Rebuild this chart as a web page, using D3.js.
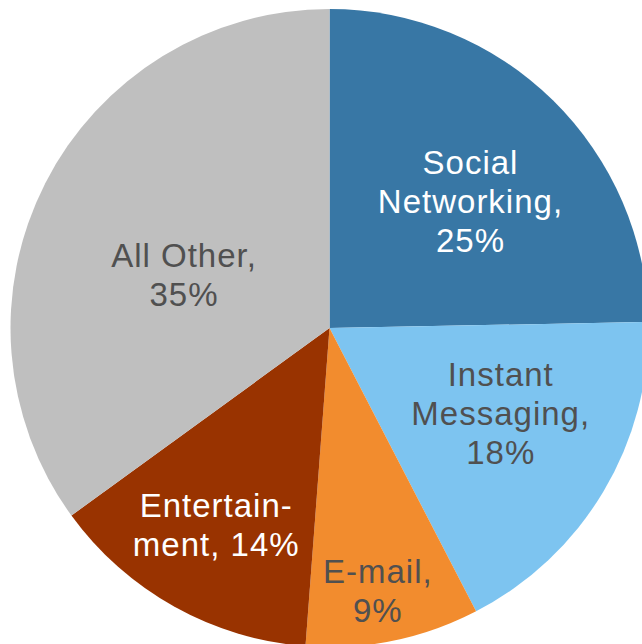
<!DOCTYPE html>
<html>
<head>
<meta charset="utf-8">
<script src="https://cdn.jsdelivr.net/npm/d3@7"></script>
<style>
  html, body { margin: 0; padding: 0; background: #ffffff; }
  svg { display: block; }
</style>
</head>
<body>
<svg id="chart" width="642" height="644"></svg>
<script>
// ---- data ----
const categories = ["Social Networking", "Instant Messaging", "E-mail", "Entertainment", "All Other"];
const shares = [24.7, 17.7, 8.8, 13.8, 35.0];
const labelLines = [
  ["Social", "Networking,", "25%"],
  ["Instant", "Messaging,", "18%"],
  ["E-mail,", "9%"],
  ["Entertain-", "ment, 14%"],
  ["All Other,", "35%"]
];
const colors = ["#3877A5", "#7DC4F0", "#F28C2E", "#993300", "#BFBFBF"];
const textColors = ["#ffffff", "#505050", "#505050", "#ffffff", "#505050"];
// label placement (best-fit style): radius fraction and angular nudge in degrees
const labelRadius = [0.592, 0.599, 0.837, 0.712, 0.487];
const labelNudge = [3.6, -4.1, 1.2, 0.9, -7.0];

// ---- layout ----
const W = 642, H = 644;
const cx = 329.5, cy = 328, R = 319;
const fontSize = 33, lineH = 39, letterSp = 1;

const svg = d3.select("#chart");
const g = svg.append("g").attr("transform", `translate(${cx},${cy})`);

const pie = d3.pie().sort(null).value(d => d).startAngle(0).endAngle(2 * Math.PI);
const arcs = pie(shares);
const arc = d3.arc().innerRadius(0).outerRadius(R);

g.selectAll("path.slice")
  .data(arcs)
  .join("path")
  .attr("class", "slice")
  .attr("d", arc)
  .attr("fill", (d, i) => colors[i]);

g.selectAll("text.lbl")
  .data(arcs)
  .join("text")
  .attr("class", "lbl")
  .attr("font-family", "Liberation Sans, Arial, sans-serif")
  .attr("font-size", fontSize)
  .attr("letter-spacing", letterSp)
  .attr("fill", (d, i) => textColors[i])
  .attr("text-anchor", "middle")
  .each(function(d, i) {
    const mid = (d.startAngle + d.endAngle) / 2 + labelNudge[i] * Math.PI / 180;
    const r = R * labelRadius[i];
    const x = Math.sin(mid) * r + letterSp / 2;
    const y = -Math.cos(mid) * r;
    const lines = labelLines[i];
    const n = lines.length;
    d3.select(this).selectAll("tspan")
      .data(lines)
      .join("tspan")
      .attr("x", x)
      .attr("y", (t, k) => y + (k - (n - 1) / 2) * lineH + 0.35 * fontSize)
      .text(t => t);
  });
</script>
</body>
</html>
